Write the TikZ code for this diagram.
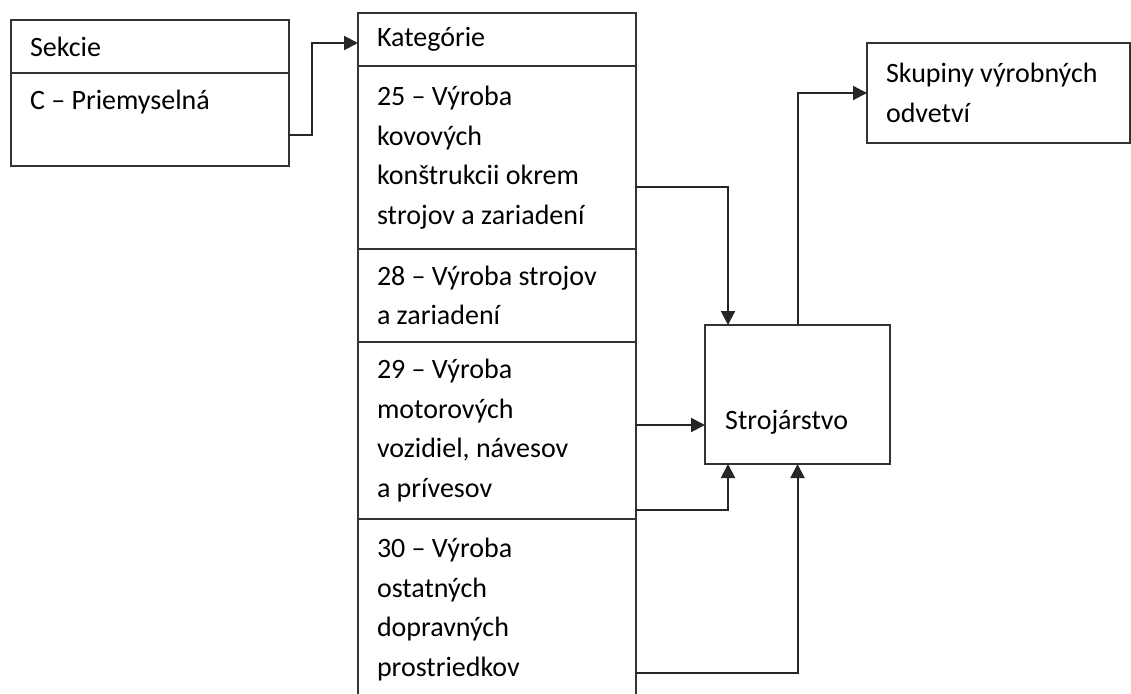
\documentclass[tikz,border=0pt]{standalone}
\usepackage{fontspec}
\setmainfont{Carlito}
\usetikzlibrary{arrows.meta,positioning}

\newcommand*{\colW}{278}
\newcommand*{\padX}{19}

\tikzset{
	cell/.style={draw=black!80, line width=2pt, rectangle, inner xsep=\padX pt, inner ysep=0pt, outer sep=0pt,
		minimum width=\colW pt, text width=240pt, align=flush left,
		font=\fontsize{28}{39.5}\selectfont},
	arr/.style={draw=black!85, line width=2pt, -{Triangle[length=14pt,width=14pt]}},
}

\begin{document}
\begin{tikzpicture}[x=1pt,y=-1pt]
	\clip (0,0) rectangle (1131,693);

	% Sekcie
	\node [cell, anchor=north west, minimum height=53pt] (sekhead) at (11,20) {Sekcie};
	\node [cell, minimum height=93pt, below=0pt of sekhead] (sekbody) {C – Priemyselná\\ ~};

	% Kategorie
	\node [cell, anchor=north west, minimum height=53pt] (kat) at (358,13) {Kategórie};
	\node [cell, minimum height=183pt, below=0pt of kat] (k25) {25 – Výroba\\ kovových\\ konštrukcii okrem\\ strojov a zariadení};
	\node [cell, minimum height=93pt, below=0pt of k25] (k28) {28 – Výroba strojov\\ a zariadení};
	\node [cell, minimum height=177pt, below=0pt of k28] (k29) {29 – Výroba\\ motorových\\ vozidiel, návesov\\ a prívesov};
	\node [cell, minimum height=181pt, below=0pt of k29] (k30) {30 – Výroba\\ ostatných\\ dopravných\\ prostriedkov};

	\node [cell, anchor=north west, minimum width=185pt, minimum height=139pt, text width=147pt] (stroj) at (705,325) {};
	\node [anchor=base west, inner sep=0pt, font=\fontsize{28}{39.5}\selectfont] (strojtxt) at ([xshift=20pt,yshift=35pt]stroj.south west) {Strojárstvo};

	\node [cell, anchor=north west, minimum width=263pt, minimum height=100pt, text width=225pt] (skup) at (867,43) {Skupiny výrobných\\ odvetví};

	% spojnice
	\draw [arr] ([yshift=-15.5pt]sekbody.east) -- ++(23,0) |- ([yshift=-3.5pt]kat.west);
	\draw [arr] ([yshift=-29.5pt]k25.east) -| ([xshift=23pt]stroj.north west);
	\coordinate (p29) at ([yshift=5.5pt]k29.east);
	\draw [arr] (p29) -- (p29 -| stroj.west);
	\draw [arr] ([yshift=-79.5pt]k29.east) -| ([xshift=23pt]stroj.south west);
	\draw [arr] ([yshift=-63pt]k30.east) -| (stroj.south);
	\draw [arr] (stroj.north) |- (skup.west);

\end{tikzpicture}
\end{document}
